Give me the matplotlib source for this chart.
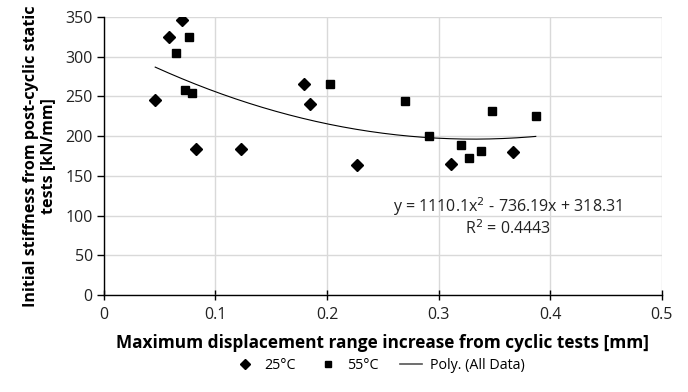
import matplotlib
matplotlib.use("Agg")
import matplotlib.pyplot as plt
import numpy as np
from matplotlib.lines import Line2D

plt.rcParams['font.family'] = ['Open Sans', 'DejaVu Sans']

# 25°C series
x25 = [0.046, 0.0585, 0.0696, 0.0824, 0.1225, 0.1795, 0.185, 0.2267, 0.311, 0.367]
y25 = [246, 325, 346, 184, 184, 266, 240, 164, 165, 180]
# 55°C series
x55 = [0.0644, 0.0762, 0.073, 0.0794, 0.2025, 0.270, 0.291, 0.320, 0.327, 0.338, 0.348, 0.387]
y55 = [305, 325, 258, 254, 265, 244, 200, 189, 172, 181, 232, 225]
# Trendline coefficients (as stated)
poly_coef = [1110.1, -736.19, 318.31]
r2 = 0.4443

xticks = [0, 0.1, 0.2, 0.3, 0.4, 0.5]
xticklabels = ['0', '0.1', '0.2', '0.3', '0.4', '0.5']
yticks = [0, 50, 100, 150, 200, 250, 300, 350]

fig = plt.figure(figsize=(6.88, 3.92), dpi=100)
ax = fig.add_axes([0.151, 0.247, 0.811, 0.71])

ax.grid(True, color='#d9d9d9', linewidth=1.0, zorder=0)
ax.set_axisbelow(True)

all_x = np.array(x25 + x55)
xs = np.linspace(all_x.min(), all_x.max(), 200)
ax.plot(xs, np.polyval(poly_coef, xs), color='black', linewidth=0.8, zorder=2)

ax.plot(x25, y25, linestyle='none', marker='D', markersize=5.8, color='black', zorder=3)
ax.plot(x55, y55, linestyle='none', marker='s', markersize=6, color='black', zorder=3)

ax.set_xlim(0, 0.5)
ax.set_ylim(0, 350)
ax.set_xticks(xticks)
ax.set_xticklabels(xticklabels)
ax.set_yticks(yticks)

for s in ['top', 'right']:
    ax.spines[s].set_visible(False)
for s in ['left', 'bottom']:
    ax.spines[s].set_color('black')
    ax.spines[s].set_linewidth(1.0)

ax.tick_params(axis='x', direction='inout', length=7, width=1, labelsize=11.5, pad=5, colors='black', labelcolor='#222222')
ax.tick_params(axis='y', direction='out', length=5, width=1, labelsize=11.5, pad=3, colors='black', labelcolor='#222222')

ax.set_xlabel('Maximum displacement range increase from cyclic tests [mm]', fontsize=12.4, fontweight='bold', labelpad=8)
ax.set_ylabel('Initial stiffness from post-cyclic static\ntests [kN/mm]', fontsize=11.6, fontweight='bold', labelpad=7,
              linespacing=1.05)

eq = 'y = {:.1f}x$^2$ - {:.2f}x + {:.2f}\nR$^2$ = {:.4f}'.format(poly_coef[0], -poly_coef[1], poly_coef[2], r2)
ax.text(0.362, 99, eq, fontsize=11.5, ha='center', va='center', multialignment='center', color='#222222',
        linespacing=1.1)

handles = [
    Line2D([], [], linestyle='none', marker='D', markersize=5, color='black'),
    Line2D([], [], linestyle='none', marker='s', markersize=5, color='black'),
    Line2D([], [], color='#555555', linewidth=1.2),
]
fig.legend(handles, ['25°C', '55°C', 'Poly. (All Data)'], loc='center', bbox_to_anchor=(0.552, 0.067),
           ncol=3, frameon=False, fontsize=10.3, handlelength=1.5, columnspacing=1.5, handletextpad=0.6)

fig.savefig('out.png', dpi=100)
